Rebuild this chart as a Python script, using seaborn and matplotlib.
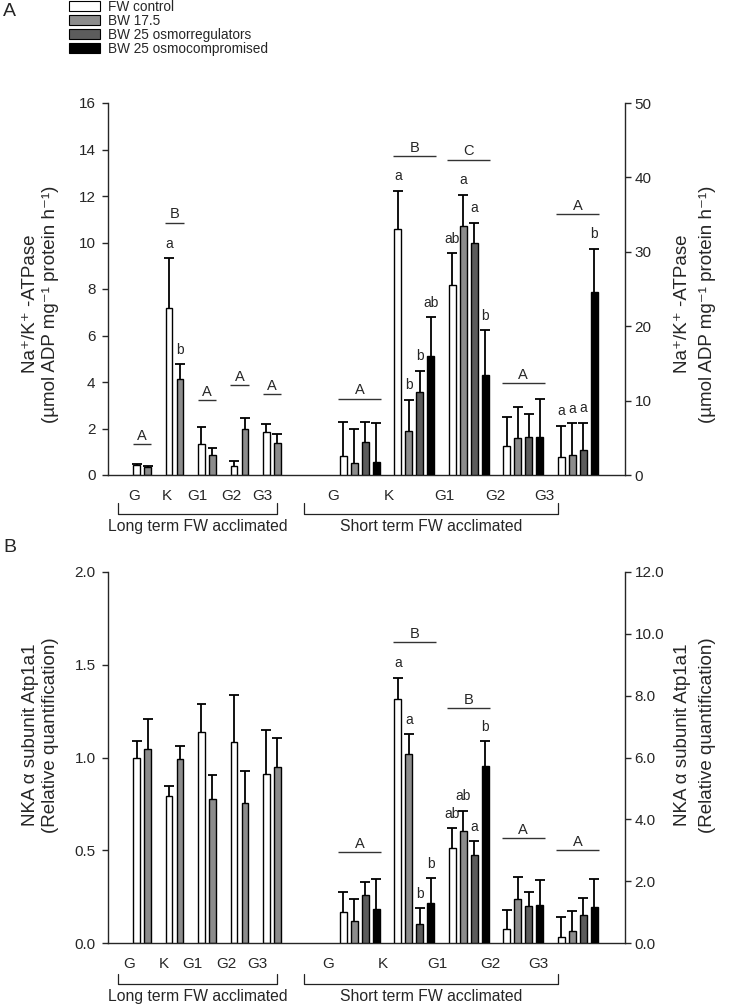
import numpy as np
import pandas as pd
import seaborn as sns
import matplotlib.pyplot as plt
from matplotlib.patches import Patch

groups = ['G', 'K', 'G1', 'G2', 'G3']
series = ['FW control', 'BW 17.5', 'BW 25 osmorregulators', 'BW 25 osmocompromised']
colors = ['white', '#8c8c8c', '#5c5c5c', 'black']

# Panel A - Na+/K+-ATPase activity
# long term (left axis, 0-16): FW control and BW 17.5
a_long = [[0.43, 7.17, 1.32, 0.40, 1.83],
          [0.36, 4.12, 0.86, 1.97, 1.37]]
a_long_err = [[0.04, 2.16, 0.76, 0.20, 0.35],
              [0.03, 0.64, 0.29, 0.48, 0.38]]
# short term (right axis, 0-50): all four groups
a_short = [[2.6, 33.0, 25.6, 3.95, 2.47],
           [1.57, 5.92, 33.5, 4.98, 2.69],
           [4.48, 11.1, 31.2, 5.16, 3.36],
           [1.79, 16.0, 13.5, 5.16, 24.6]]
a_short_err = [[4.57, 5.2, 4.2, 3.9, 4.17],
               [4.62, 4.18, 4.2, 4.21, 4.26],
               [2.69, 2.9, 2.7, 3.0, 3.68],
               [5.16, 5.2, 6.0, 5.11, 5.8]]
a_long_groups = ['A', 'B', 'A', 'A', 'A']
a_long_lines = [1.32, 10.86, 3.24, 3.85, 3.49]
a_long_marks = [['', 'a', '', '', ''],
                ['', 'b', '', '', '']]
a_short_groups = ['A', 'B', 'C', 'A', 'A']
a_short_lines = [10.27, 42.9, 42.4, 12.4, 35.1]
a_short_marks = [['', 'a', 'ab', '', 'a'],
                 ['', 'b', 'a', '', 'a'],
                 ['', 'b', 'a', '', 'a'],
                 ['', 'ab', 'b', '', 'b']]

# Panel B - NKA alpha subunit Atp1a1 mRNA
b_long = [[1.0, 0.794, 1.136, 1.083, 0.91],
          [1.047, 0.994, 0.777, 0.757, 0.947]]
b_long_err = [[0.089, 0.051, 0.152, 0.252, 0.24],
              [0.162, 0.07, 0.127, 0.172, 0.16]]
b_short = [[1.02, 7.88, 3.08, 0.47, 0.20],
           [0.73, 6.11, 3.63, 1.44, 0.41],
           [1.57, 0.63, 2.85, 1.20, 0.90],
           [1.12, 1.31, 5.72, 1.23, 1.18]]
b_short_err = [[0.65, 0.70, 0.64, 0.61, 0.66],
               [0.71, 0.64, 0.65, 0.70, 0.64],
               [0.40, 0.50, 0.44, 0.46, 0.57],
               [0.95, 0.80, 0.81, 0.80, 0.91]]
b_short_groups = ['A', 'B', 'B', 'A', 'A']
b_short_lines = [2.95, 9.74, 7.59, 3.39, 3.0]
b_short_marks = [['', 'a', 'ab', '', ''],
                 ['', 'a', 'ab', '', ''],
                 ['', 'b', 'a', '', ''],
                 ['', 'b', 'b', '', '']]

long_pos = [3.1, 6.05, 9.0, 11.95, 14.9]
short_pos = [22.9, 27.85, 32.8, 37.75, 42.7]

sns.set_style('ticks')
plt.rcParams['font.family'] = ['Liberation Sans', 'DejaVu Sans']
plt.rcParams['axes.linewidth'] = 1.0


def frame(values, pos):
    rows = []
    for s, vals in zip(series, values):
        for p, v in zip(pos, vals):
            rows.append({'pos': p, 'value': v, 'series': s})
    return pd.DataFrame(rows)


def bars(ax, values, errs, pos, marks):
    n = len(values)
    df = frame(values, pos)
    step = pos[1] - pos[0]
    sns.barplot(data=df, x='pos', y='value', hue='series', hue_order=series[:n],
                palette=dict(zip(series, colors)), native_scale=True,
                width=n / step, gap=0.39, errorbar=None, edgecolor='black',
                linewidth=1, legend=False, ax=ax)
    for i in range(n):
        xs = np.array(pos) + (i - (n - 1) / 2)
        tops = np.array(values[i]) + np.array(errs[i])
        ax.vlines(xs, values[i], tops, color='black', lw=1.3, zorder=4)
        ax.hlines(tops, xs - 0.45, xs + 0.45, color='black', lw=1.3, zorder=4)
        for x, t, m in zip(xs, tops, marks[i]):
            if m:
                ax.annotate(m, (x, t), xytext=(0, 7.5), textcoords='offset points',
                            ha='center', va='baseline', fontsize=10)


def group_letters(ax, pos, lines, letters, half):
    for x, y, l in zip(pos, lines, letters):
        ax.hlines(y, x - half, x + half, color='#333333', lw=1)
        ax.annotate(l, (x, y), xytext=(0, 3), textcoords='offset points',
                    ha='center', va='baseline', fontsize=10.5)


def brackets(ax, y_line, y_tick, y_text):
    tr = ax.get_xaxis_transform()
    for x0, x1, txt in [(0.9, 15.35, 'Long term FW acclimated'),
                        (17.8, 40.9, 'Short term FW acclimated')]:
        ax.plot([x0, x0, x1, x1], [y_tick, y_line, y_line, y_tick], color='#222222',
                lw=0.9, transform=tr, clip_on=False)
        ax.text((x0 + x1) / 2, y_text, txt, transform=tr, ha='center', va='center',
                fontsize=11.3)


def panel(ax, long_v, long_e, short_v, short_e, lmax, lticks, lfmt, rmax, rticks, rfmt,
          long_marks, short_marks, label_pos, ylab, lab_y):
    ax2 = ax.twinx()
    bars(ax, long_v, long_e, long_pos, long_marks)
    bars(ax2, short_v, short_e, short_pos, short_marks)
    ax.set_xlim(0, 47)
    ax.set_ylim(0, lmax)
    ax2.set_ylim(0, rmax)
    ax.set_yticks(lticks, [lfmt.format(t) for t in lticks])
    ax2.set_yticks(rticks, [rfmt.format(t) for t in rticks])
    ax.set_xticks(label_pos, groups + groups)
    ax.tick_params(axis='x', length=0, pad=10, labelsize=11)
    ax.tick_params(axis='y', direction='out', length=4, width=1, pad=5, labelsize=11)
    ax2.tick_params(axis='y', direction='out', length=4, width=1, pad=3, labelsize=11)
    for a in (ax, ax2):
        a.set_xlabel('')
        a.set_ylabel('')
        a.spines['top'].set_visible(False)
    ax.spines['right'].set_visible(False)
    ax2.spines['left'].set_visible(False)
    ax2.spines['bottom'].set_visible(False)
    for a, xs in ((ax, (-0.150, -0.112)), (ax2, (1.112, 1.160))):
        for x, t in zip(xs, ylab):
            a.text(x, lab_y, t, transform=a.transAxes, rotation=90, ha='center',
                   va='center', fontsize=13.5)
    return ax2


fig = plt.figure(figsize=(7.32, 10.06), dpi=100)
axA = fig.add_axes([108 / 732, 1 - 475 / 1006, 517 / 732, 372 / 1006])
axB = fig.add_axes([108 / 732, 1 - 943.3 / 1006, 517 / 732, 371.6 / 1006])

ylab_a = ['Na⁺/K⁺ -ATPase', '(µmol ADP mg⁻¹ protein h⁻¹)']
axA2 = panel(axA, a_long, a_long_err, a_short, a_short_err,
             16, list(range(0, 17, 2)), '{:d}', 50, list(range(0, 51, 10)), '{:d}',
             a_long_marks, a_short_marks,
             [2.4, 5.35, 8.1, 11.2, 14.0, 20.5, 25.5, 30.6, 35.2, 39.7], ylab_a, 0.46)
group_letters(axA, long_pos, a_long_lines, a_long_groups, 0.85)
group_letters(axA2, short_pos, a_short_lines, a_short_groups, 1.95)
brackets(axA, -0.105, -0.075, -0.138)

ylab_b = ['NKA α subunit Atp1a1', '(Relative quantification)']
axB2 = panel(axB, b_long, b_long_err, b_short, b_short_err,
             2.0, [0.0, 0.5, 1.0, 1.5, 2.0], '{:.1f}', 12, [0, 2, 4, 6, 8, 10, 12], '{:.1f}',
             [[''] * 5, [''] * 5], b_short_marks,
             [1.9, 5.05, 7.7, 10.8, 13.55, 20.0, 25.0, 29.9, 34.8, 39.1], ylab_b, 0.56)
group_letters(axB2, short_pos, b_short_lines, b_short_groups, 1.95)
brackets(axB, -0.109, -0.082, -0.142)

fig.text(3 / 732, 1 - 3 / 1006, 'A', fontsize=14, va='top', ha='left')
fig.text(3 / 732, 1 - 539 / 1006, 'B', fontsize=14, va='top', ha='left')

handles = [Patch(facecolor=c, edgecolor='black', linewidth=0.8, label=s)
           for s, c in zip(series, colors)]
fig.legend(handles=handles, loc='upper left', bbox_to_anchor=(69 / 732, 1.0),
           frameon=False, fontsize=9.8, handlelength=2.3, handleheight=0.7,
           handletextpad=0.6, labelspacing=0.0, borderpad=0, borderaxespad=0)

fig.savefig('out.png', dpi=100)
